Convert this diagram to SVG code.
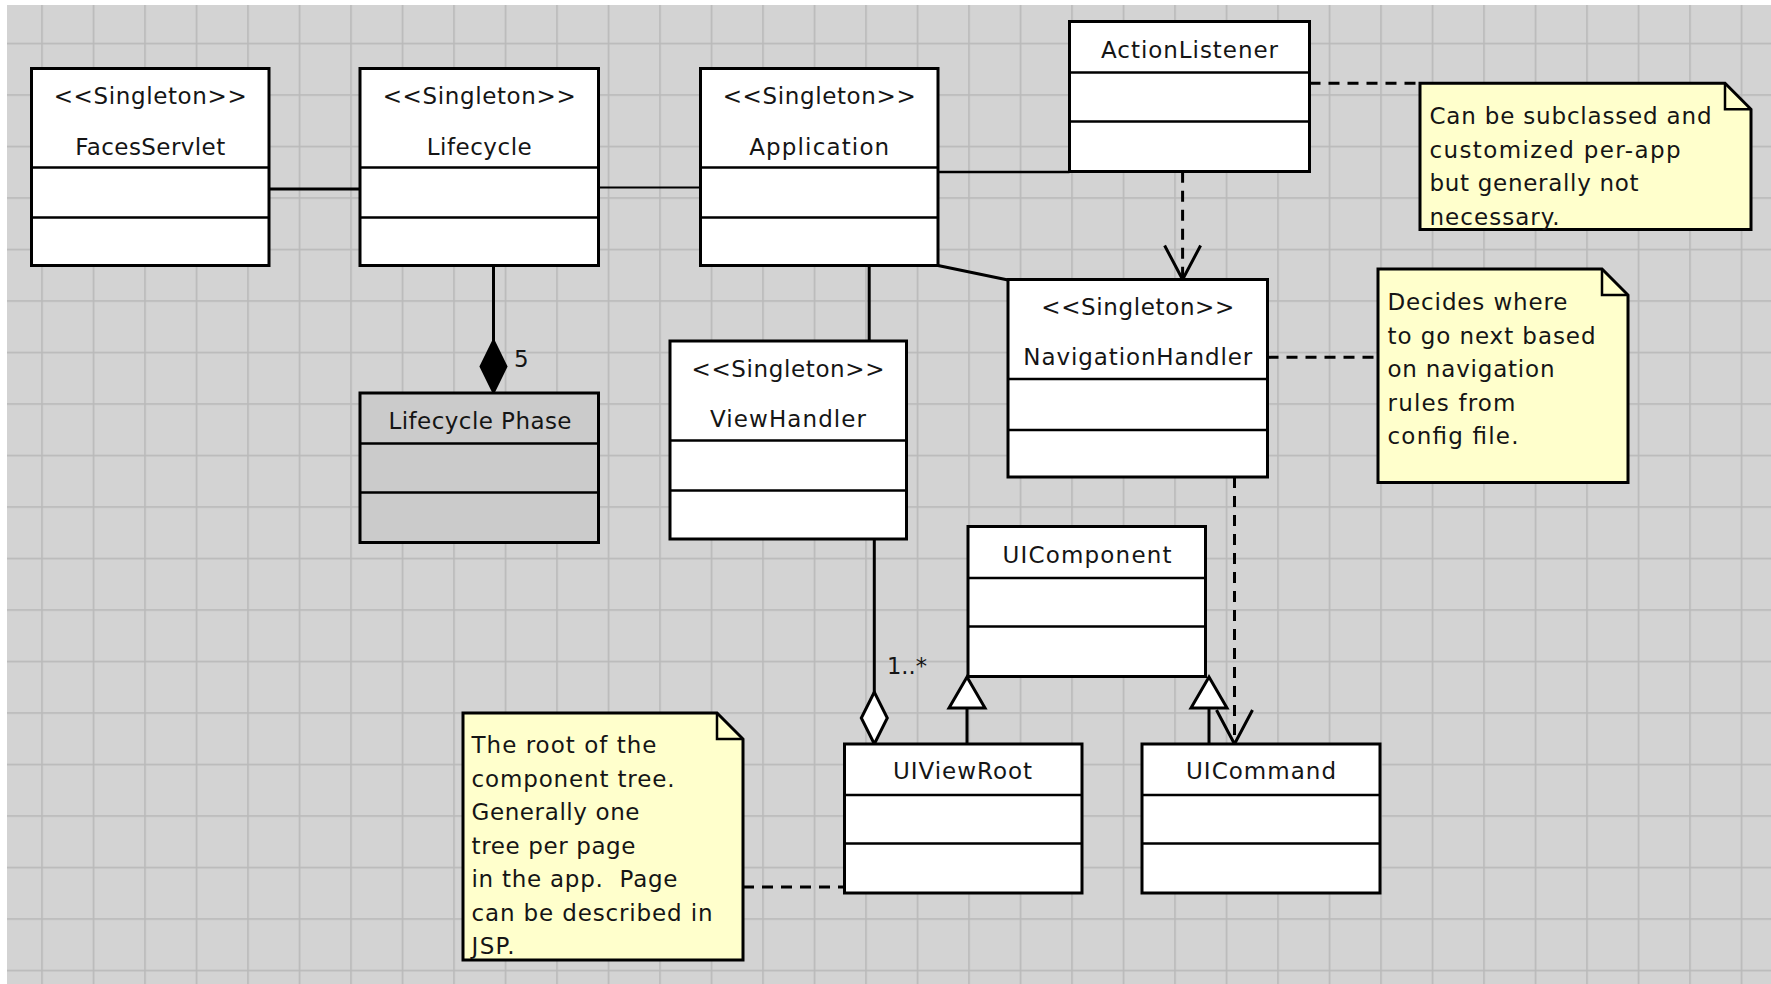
<svg xmlns="http://www.w3.org/2000/svg" width="1771" height="984" viewBox="0 0 1771 984">
<style>
.box{fill:#fff;stroke:#000;stroke-width:3}
.gray{fill:#cbcbcb}
.div{stroke:#000;stroke-width:2.5;fill:none}
.t{font-family:"DejaVu Sans","Liberation Sans",sans-serif;font-size:23px;fill:#151515}
.c{text-anchor:middle}
.note{fill:#ffffcc;stroke:#000;stroke-width:3;stroke-linejoin:miter}
.fold{fill:none;stroke:#000;stroke-width:2.5}
.line{stroke:#000;stroke-width:3;fill:none}
.thin{stroke-width:2}
.dash{stroke:#000;stroke-width:3;stroke-dasharray:11 8;fill:none}
</style>
<defs>
<pattern id="grid" x="41.2" y="42.7" width="51.5" height="51.5" patternUnits="userSpaceOnUse">
<rect x="0" y="0" width="51.5" height="1.6" fill="#b9b9b9"/>
<rect x="0" y="0" width="1.6" height="51.5" fill="#b9b9b9"/>
</pattern>
<marker id="open" viewBox="-40 -22 46 44" refX="0" refY="0" markerWidth="46" markerHeight="44" orient="auto" markerUnits="userSpaceOnUse">
<path d="M-34,-18 L0,0 L-34,18" fill="none" stroke="#000" stroke-width="3"/>
</marker>
<marker id="tri" viewBox="-36 -22 42 44" refX="0" refY="0" markerWidth="42" markerHeight="44" orient="auto" markerUnits="userSpaceOnUse">
<path d="M0,0 L-31,-18 L-31,18 Z" fill="#fff" stroke="#000" stroke-width="3"/>
</marker>
<marker id="diaF" viewBox="-58 -17 62 34" refX="0" refY="0" markerWidth="62" markerHeight="34" orient="auto" markerUnits="userSpaceOnUse">
<path d="M0,0 L-26.5,-13 L-53,0 L-26.5,13 Z" fill="#000" stroke="#000" stroke-width="2"/>
</marker>
<marker id="diaH" viewBox="-58 -17 62 34" refX="0" refY="0" markerWidth="62" markerHeight="34" orient="auto" markerUnits="userSpaceOnUse">
<path d="M0,0 L-26,-13 L-52,0 L-26,13 Z" fill="#fff" stroke="#000" stroke-width="3"/>
</marker>
</defs>

<rect x="0" y="0" width="1771" height="984" fill="#fff"/>
<rect x="7" y="5" width="1764" height="979" fill="#d3d3d3"/>
<rect x="7" y="5" width="1764" height="979" fill="url(#grid)"/>

<g id="connectors">
<path class="line" d="M268.8,189 H360"/>
<path class="line thin" d="M598.6,187.5 H700.5"/>
<path class="line" style="stroke-width:2.5" d="M938,172 H1069.5"/>
<path class="line" d="M938,265.5 L1008,280"/>
<path class="line" d="M869.2,265.5 V341"/>
<path class="line" d="M493.5,265.5 V393" marker-end="url(#diaF)"/>
<path class="line" d="M874.3,539 V744" marker-end="url(#diaH)"/>
<path class="line" d="M967,744 V677" marker-end="url(#tri)"/>
<path class="line" d="M1209,744 V677" marker-end="url(#tri)"/>
<path class="dash" d="M1182.6,171.7 V279.5" marker-end="url(#open)"/>
<path class="dash" d="M1234.5,477 V744" marker-end="url(#open)"/>
<path class="dash" d="M1309.5,83.3 H1420"/>
<path class="dash" d="M1267.5,357.3 H1378"/>
<path class="dash" d="M743,887 H844.5"/>
<text class="t" x="514" y="367">5</text>
<text class="t" x="887" y="674" textLength="40" lengthAdjust="spacingAndGlyphs">1..*</text>
</g>

<g id="FacesServlet">
<rect class="box" x="31.5" y="68.5" width="237.5" height="197"/>
<path class="div" d="M31.5,167.5 H269 M31.5,217.5 H269"/>
<text class="t c" x="150.2" y="103.5" textLength="193">&lt;&lt;Singleton&gt;&gt;</text>
<text class="t c" x="150.2" y="154.5" textLength="150">FacesServlet</text>
</g>

<g id="Lifecycle">
<rect class="box" x="360" y="68.5" width="238.5" height="197"/>
<path class="div" d="M360,167.5 H598.5 M360,217.5 H598.5"/>
<text class="t c" x="479.2" y="103.5" textLength="193">&lt;&lt;Singleton&gt;&gt;</text>
<text class="t c" x="479.2" y="154.5" textLength="105">Lifecycle</text>
</g>

<g id="Application">
<rect class="box" x="700.5" y="68.5" width="237.5" height="197"/>
<path class="div" d="M700.5,167.5 H938 M700.5,217.5 H938"/>
<text class="t c" x="819.2" y="103.5" textLength="193">&lt;&lt;Singleton&gt;&gt;</text>
<text class="t c" x="819.2" y="154.5" textLength="140">Application</text>
</g>

<g id="ActionListener">
<rect class="box" x="1069.5" y="21.5" width="240" height="150"/>
<path class="div" d="M1069.5,72.5 H1309.5 M1069.5,121.5 H1309.5"/>
<text class="t c" x="1189.5" y="58.3" textLength="177">ActionListener</text>
</g>

<g id="NavigationHandler">
<rect class="box" x="1008" y="279.5" width="259.5" height="197.5"/>
<path class="div" d="M1008,379 H1267.5 M1008,430 H1267.5"/>
<text class="t c" x="1137.8" y="315" textLength="193">&lt;&lt;Singleton&gt;&gt;</text>
<text class="t c" x="1137.8" y="365" textLength="229">NavigationHandler</text>
</g>

<g id="LifecyclePhase">
<rect class="box gray" x="360" y="393" width="238.5" height="149.5"/>
<path class="div" d="M360,443.5 H598.5 M360,492.5 H598.5"/>
<text class="t c" x="480" y="428.5" textLength="183">Lifecycle Phase</text>
</g>

<g id="ViewHandler">
<rect class="box" x="670" y="341" width="236.5" height="198"/>
<path class="div" d="M670,440.5 H906.5 M670,490.5 H906.5"/>
<text class="t c" x="788" y="377" textLength="193">&lt;&lt;Singleton&gt;&gt;</text>
<text class="t c" x="788" y="427" textLength="156">ViewHandler</text>
</g>

<g id="UIComponent">
<rect class="box" x="968" y="526.5" width="237.5" height="150"/>
<path class="div" d="M968,578 H1205.5 M968,626.5 H1205.5"/>
<text class="t c" x="1087" y="563.3" textLength="169">UIComponent</text>
</g>

<g id="UIViewRoot">
<rect class="box" x="844.5" y="744" width="237.5" height="149"/>
<path class="div" d="M844.5,795 H1082 M844.5,843.5 H1082"/>
<text class="t c" x="962.5" y="778.5" textLength="139">UIViewRoot</text>
</g>

<g id="UICommand">
<rect class="box" x="1142" y="744" width="238" height="149"/>
<path class="div" d="M1142,795 H1380 M1142,843.5 H1380"/>
<text class="t c" x="1261" y="778.5" textLength="150">UICommand</text>
</g>

<g id="note1">
<path class="note" d="M1420,83.3 H1725 L1751,109.3 V229.5 H1420 Z"/>
<path class="fold" d="M1725,83.3 V109.3 H1751"/>
<text class="t" x="1429.5" y="124" textLength="282">Can be subclassed and</text>
<text class="t" x="1429.5" y="157.5" textLength="251">customized per-app</text>
<text class="t" x="1429.5" y="191" textLength="209">but generally not</text>
<text class="t" x="1429.5" y="224.5" textLength="130">necessary.</text>
</g>

<g id="note2">
<path class="note" d="M1378,269 H1602 L1628,295 V482.5 H1378 Z"/>
<path class="fold" d="M1602,269 V295 H1628"/>
<text class="t" x="1387.5" y="310" textLength="180">Decides where</text>
<text class="t" x="1387.5" y="343.5" textLength="208">to go next based</text>
<text class="t" x="1387.5" y="377" textLength="167">on navigation</text>
<text class="t" x="1387.5" y="410.5" textLength="128">rules from</text>
<text class="t" x="1387.5" y="444" textLength="131">config file.</text>
</g>

<g id="note3">
<path class="note" d="M463,713 H717 L743,739 V960 H463 Z"/>
<path class="fold" d="M717,713 V739 H743"/>
<text class="t" x="471.5" y="753" textLength="185">The root of the</text>
<text class="t" x="471.5" y="786.5" textLength="203">component tree.</text>
<text class="t" x="471.5" y="820" textLength="168">Generally one</text>
<text class="t" x="471.5" y="853.5" textLength="164">tree per page</text>
<text class="t" x="471.5" y="887" textLength="206" xml:space="preserve">in the app.  Page</text>
<text class="t" x="471.5" y="920.5" textLength="241">can be described in</text>
<text class="t" x="471.5" y="954" textLength="43">JSP.</text>
</g>
</svg>
